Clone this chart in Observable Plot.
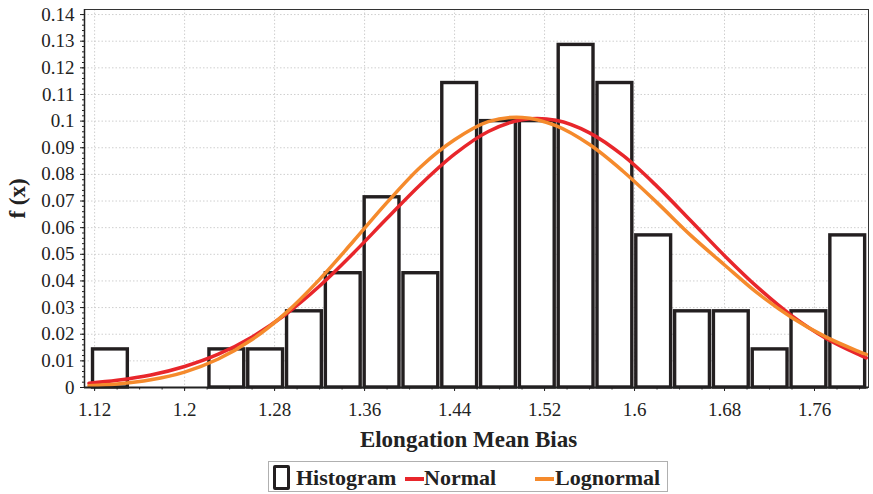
<!DOCTYPE html>
<html><head><meta charset="utf-8">
<script src="https://cdn.jsdelivr.net/npm/d3@7"></script>
<script src="https://cdn.jsdelivr.net/npm/@observablehq/plot@0.6"></script>
<style>
body{margin:0;background:#fff;font-family:"Liberation Serif",serif;}
#chart{position:relative;width:873px;height:494px;}
#legend{position:absolute;left:268px;top:461px;width:400px;height:31px;border:1px solid #b0b0b0;box-sizing:border-box;font-weight:bold;font-size:22px;color:#222;background:#fff;}
.item{position:absolute;top:2px;height:28px;line-height:28px;white-space:nowrap;}
.sym{position:absolute;}
</style></head><body><div id="chart"></div>
<script>
const binEdges = [1.1168,1.1513,1.1858,1.2203,1.2548,1.2893,1.3238,1.3583,1.3928,1.4273,1.4618,1.4963,1.5308,1.5653,1.5998,1.6343,1.6688,1.7033,1.7378,1.7723,1.8068];
const density = [0.0143,0,0,0.0143,0.0143,0.0286,0.0429,0.0714,0.0429,0.1143,0.1,0.1,0.1286,0.1143,0.0571,0.0286,0.0286,0.0143,0.0286,0.0571];
const curveX     = [1.115,1.14,1.17,1.20,1.23,1.26,1.29,1.32,1.35,1.38,1.41,1.44,1.47,1.50,1.53,1.56,1.59,1.62,1.65,1.68,1.71,1.74,1.77,1.80,1.806];
const normalY    = [0.0016,0.0027,0.0047,0.0079,0.0125,0.0190,0.0275,0.0381,0.0504,0.0635,0.0763,0.0876,0.0961,0.1005,0.1003,0.0956,0.0870,0.0755,0.0626,0.0495,0.0374,0.0269,0.0185,0.0122,0.0111];
const lognormalY = [0.0007,0.0013,0.0029,0.0058,0.0107,0.0180,0.0280,0.0406,0.0549,0.0695,0.0829,0.0930,0.0998,0.1014,0.0983,0.0912,0.0811,0.0694,0.0571,0.0460,0.0352,0.0262,0.0190,0.0134,0.0124];
const xTicks = [1.12,1.2,1.28,1.36,1.44,1.52,1.6,1.68,1.76];
const yTicks = [0,0.01,0.02,0.03,0.04,0.05,0.06,0.07,0.08,0.09,0.1,0.11,0.12,0.13,0.14];
const xTitle = "Elongation Mean Bias";
const yTitle = "f (x)";
const legendLabels = ["Histogram","Normal","Lognormal"];
const seriesColors = ["#231f20","#e8262b","#f58a2c"];

const bins = density.map((d,i)=>({x1:binEdges[i], x2:binEdges[i+1], y:d}));
const normal = curveX.map((x,i)=>({x, y:normalY[i]}));
const logn = curveX.map((x,i)=>({x, y:lognormalY[i]}));
const minorY = d3.range(0, 0.1401, 0.002);
const minorX = d3.range(1.12, 1.81, 0.02);
const fmt = d => String(+d.toFixed(2));

const plot = Plot.plot({
  width: 873, height: 458,
  marginLeft: 84, marginRight: 5, marginTop: 9, marginBottom: 71,
  style: {fontFamily: '"Liberation Serif", serif', fontSize: "19px", color: "#222", background: "#fff"},
  x: {domain: [1.111, 1.808]},
  y: {domain: [0, 0.1419]},
  marks: [
    Plot.gridY(yTicks, {stroke: "#cfcfcf", strokeOpacity: 1, strokeDasharray: "1.5,2"}),
    Plot.gridX(xTicks, {stroke: "#cfcfcf", strokeOpacity: 1, strokeDasharray: "1.5,2"}),
    Plot.rectY(bins, {x1: "x1", x2: "x2", y: "y", fill: "white", stroke: seriesColors[0], strokeWidth: 3.4, insetLeft: 2, insetRight: 2}),
    Plot.line(normal, {x: "x", y: "y", stroke: seriesColors[1], strokeWidth: 3.5, curve: "catmull-rom"}),
    Plot.line(logn, {x: "x", y: "y", stroke: seriesColors[2], strokeWidth: 3.5, curve: "catmull-rom"}),
    Plot.frame({stroke: "#333", strokeWidth: 1}),
    Plot.ruleX([1.111], {stroke: "#222", strokeWidth: 1.5}),
    Plot.ruleY([0], {stroke: "#222", strokeWidth: 2}),
    Plot.axisY(yTicks, {tickSize: 4, tickPadding: 6, tickFormat: fmt, label: null, fontSize: 19}),
    Plot.axisY(minorY, {tickSize: 2, tickFormat: () => "", label: null}),
    Plot.axisX(xTicks, {tickSize: 4, tickPadding: 11, tickFormat: fmt, label: null, fontSize: 19}),
    Plot.axisX(minorX, {tickSize: 2.5, tickFormat: () => "", label: null}),
    Plot.text([xTitle], {text: d => d, frameAnchor: "bottom", dy: 52, dx: -8, fontWeight: "bold", fontSize: 23, lineAnchor: "middle", textAnchor: "middle"}),
    Plot.text([yTitle], {text: d => d, frameAnchor: "left", dx: -67, rotate: -90, fontWeight: "bold", fontSize: 23, lineAnchor: "middle", textAnchor: "middle"})
  ]
});
const chart = document.getElementById("chart");
chart.appendChild(plot);

const legend = document.createElement("div");
legend.id = "legend";
legend.innerHTML =
  `<div class="sym" style="left:4px;top:3px;width:11px;height:19px;border:3.5px solid ${seriesColors[0]};border-radius:2px;"></div>` +
  `<div class="item" style="left:27px;">${legendLabels[0]}</div>` +
  `<div class="sym" style="left:136px;top:15px;width:19px;height:4px;background:${seriesColors[1]};"></div>` +
  `<div class="item" style="left:155px;">${legendLabels[1]}</div>` +
  `<div class="sym" style="left:266px;top:15px;width:19px;height:4px;background:${seriesColors[2]};"></div>` +
  `<div class="item" style="left:286px;">${legendLabels[2]}</div>`;
chart.appendChild(legend);
</script></body></html>
